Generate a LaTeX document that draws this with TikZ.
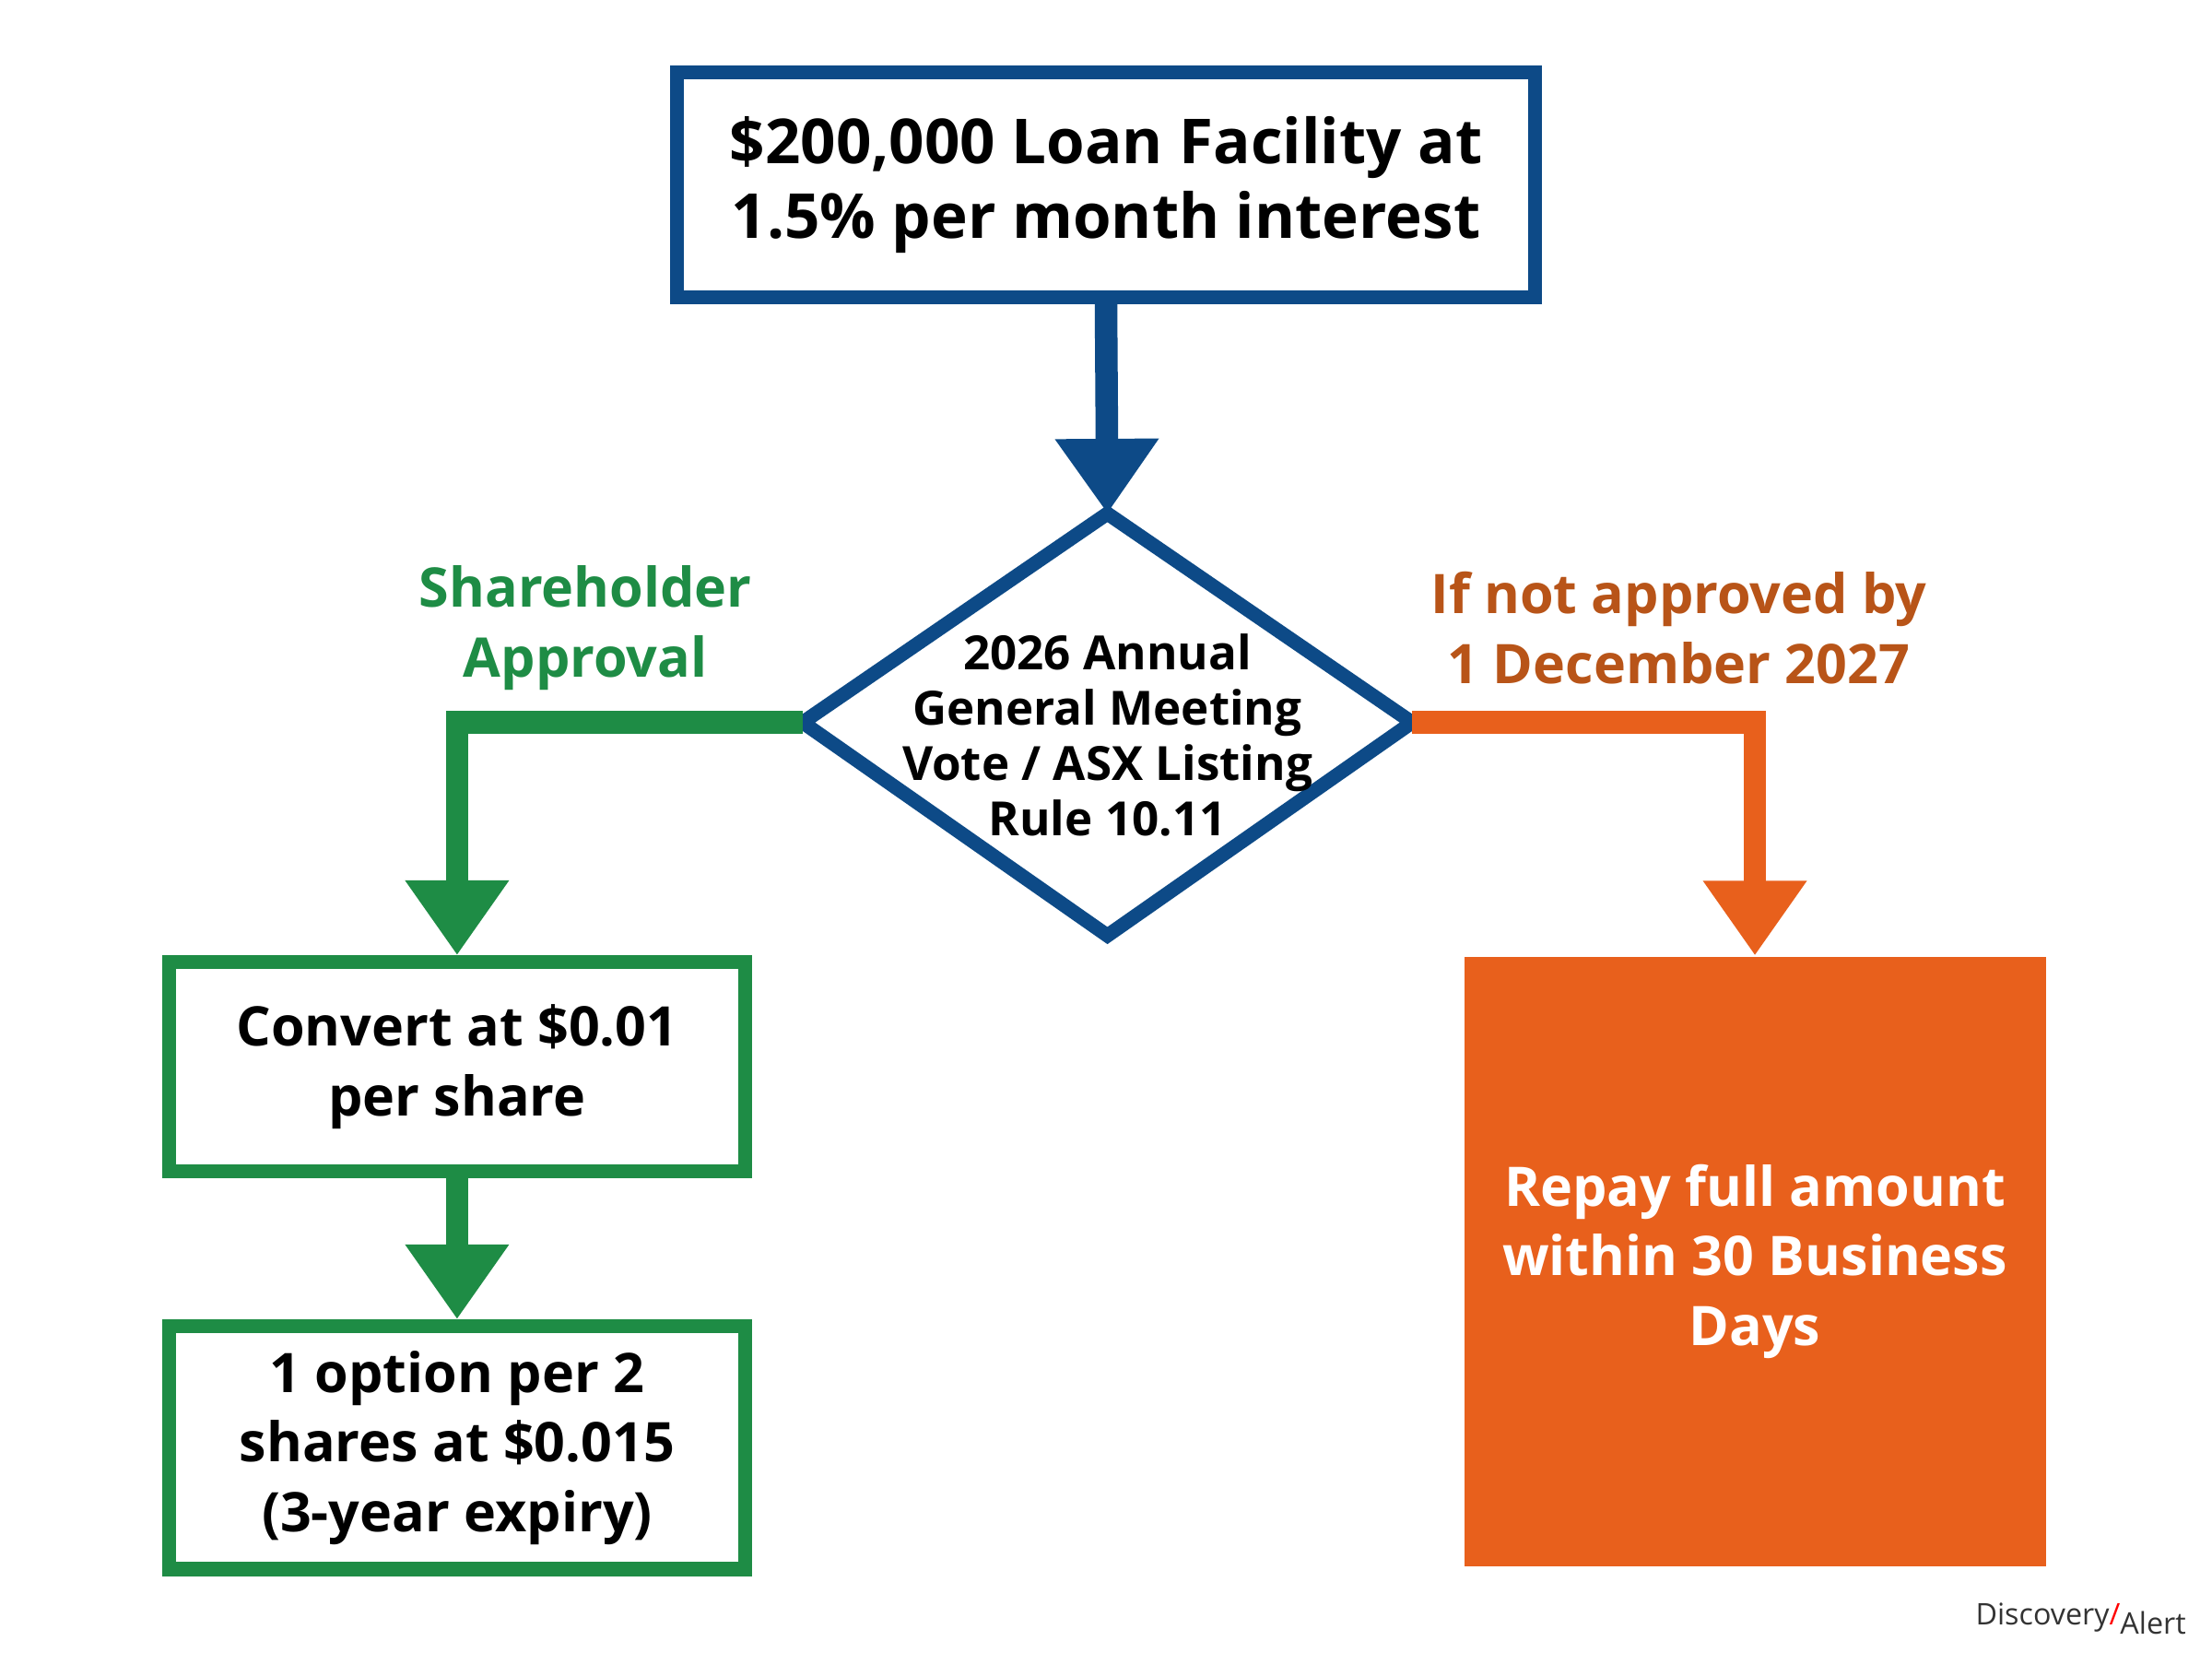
\documentclass[tikz,border=0pt]{standalone}
\usepackage{fontspec}
\setmainfont{Open Sans}
\usetikzlibrary{arrows.meta}
\definecolor{cblue}{HTML}{0D4A87}
\definecolor{cgreen}{HTML}{1E8C45}
\definecolor{corange}{HTML}{E8601C}
\definecolor{clabel}{HTML}{B85418}
\begin{document}
\begin{tikzpicture}[x=0.01cm,y=-0.01cm,
  box/.style={draw,line width=0.1cm,align=center,inner sep=0pt,font=\bfseries},
  conn/.style={line width=0.16cm,-{Triangle[length=0.53cm,width=0.7cm]}},
  lbl/.style={align=center,font=\bfseries\fontsize{11}{14}\selectfont}]
\useasboundingbox[fill=white] (0,0) rectangle (1568,1171);
\node[box,cblue,text=black,minimum width=6.08cm,minimum height=1.59cm,font=\bfseries\fontsize{12.5}{15}\selectfont] (top) at (784,131) {\$200,000 Loan Facility at\\1.5\% per month interest};
\draw[cblue,line width=0.1cm,line join=miter] (785,364) coordinate (dN) -- (1001,512) coordinate (dE) -- (785,663) -- (569,512) coordinate (dW) -- cycle;
\node[align=center,font=\bfseries\fontsize{9.5}{11.2}\selectfont] (dtext) at (785,521) {2026 Annual\\General Meeting\\Vote / ASX Listing\\Rule 10.11};
\draw[conn,cblue] (top.south) -- (dN);
\node[box,cgreen,text=black,minimum width=4.08cm,minimum height=1.48cm,font=\bfseries\fontsize{11}{14}\selectfont] (b1) at (324,756) {Convert at \$0.01\\per share};
\node[box,cgreen,text=black,minimum width=4.08cm,minimum height=1.72cm,font=\bfseries\fontsize{11}{14}\selectfont] (b2) at (324,1026) {1 option per 2\\shares at \$0.015\\(3-year expiry)};
\node[fill=corange,text=white,align=center,minimum width=4.12cm,minimum height=4.32cm,font=\bfseries\fontsize{11}{14}\selectfont] (rb) at (1244,894) {Repay full amount\\within 30 Business\\Days};
\draw[conn,cgreen] (dW) -| (b1.north);
\draw[conn,cgreen] (b1.south) -- (b2.north);
\draw[conn,corange] (dE) -| (rb.north);
\node[lbl,cgreen] (l1) at (415,445) {Shareholder\\Approval};
\node[lbl,clabel] (l2) at (1190,445) {If not approved by\\1 December 2027};
\node[font=\fontsize{6}{7}\selectfont,text=black!80,anchor=east] (logo) at (1562,1147) {Discovery\textcolor{red}{/}\raisebox{-0.6ex}{Alert}};
\end{tikzpicture}
\end{document}
